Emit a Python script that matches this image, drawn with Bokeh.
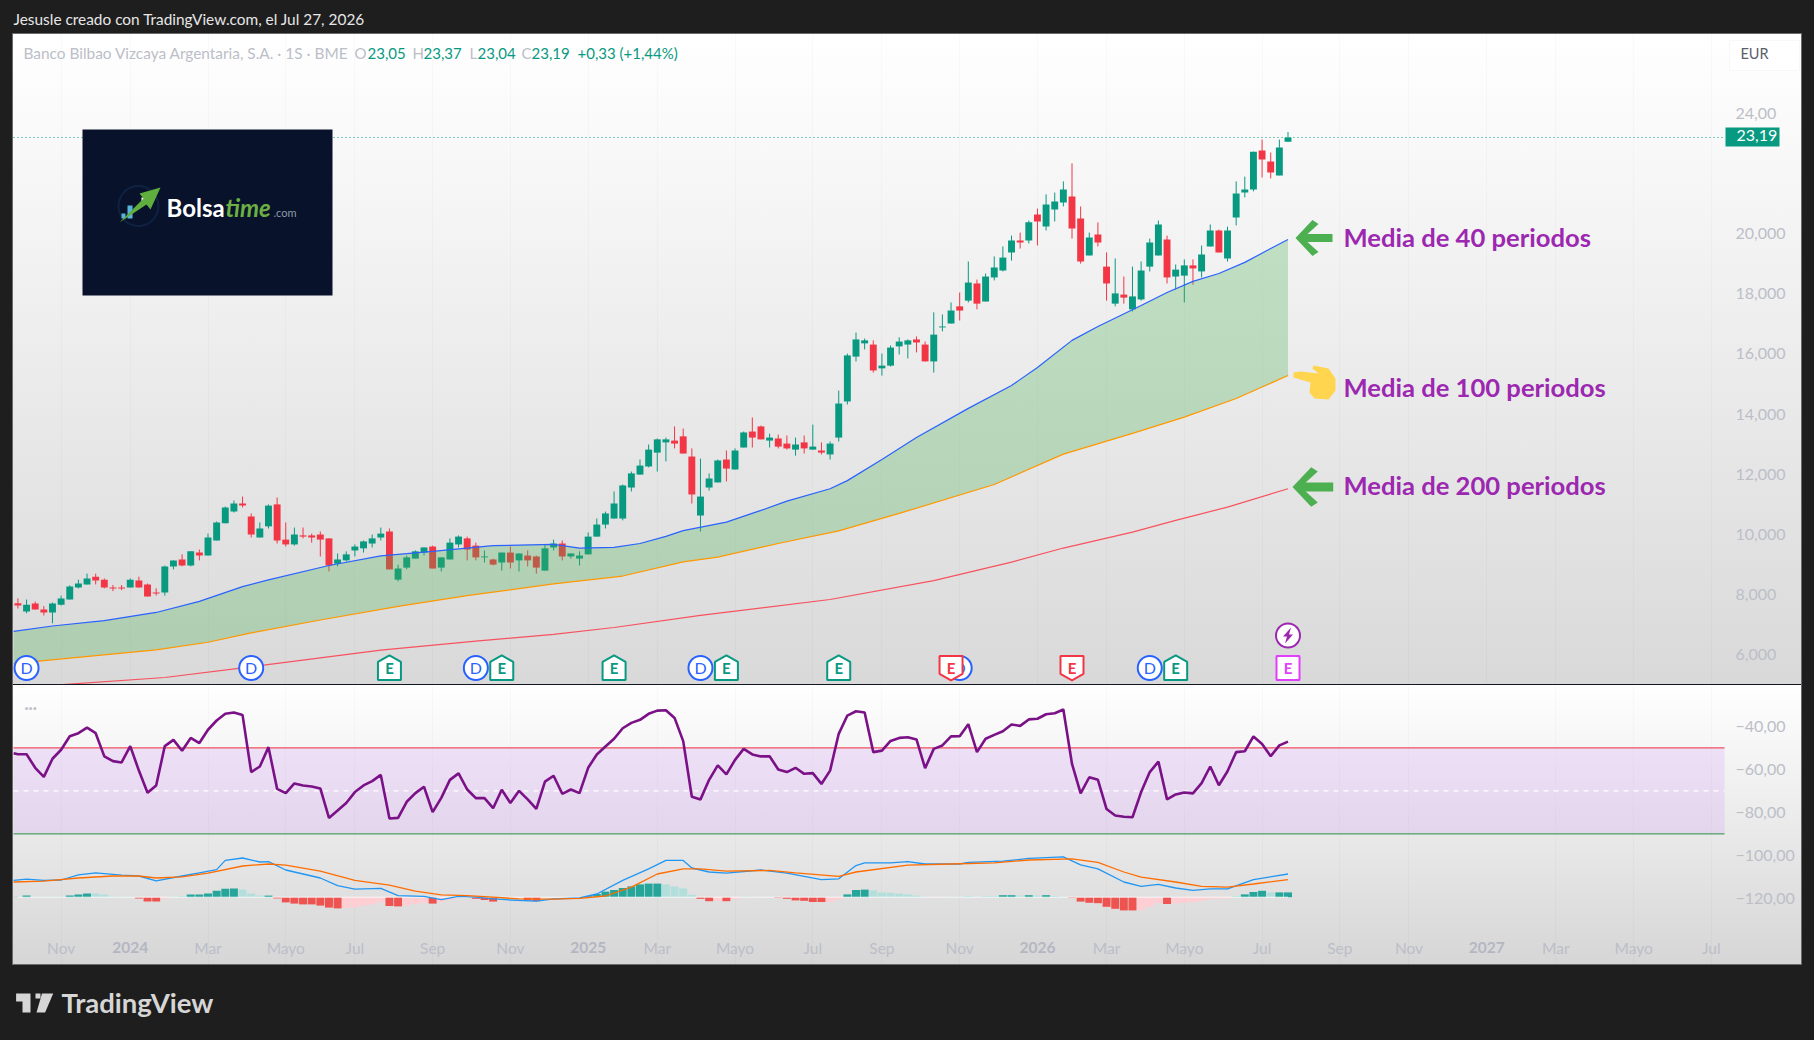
import math
import pandas as pd
from bokeh.embed import file_html
from bokeh.resources import INLINE
from bokeh.core.properties import value
from bokeh.layouts import column
from bokeh.models import (BoxAnnotation, ColumnDataSource, FixedTicker, Label, LinearAxis,
                          PolyAnnotation, Range1d)
from bokeh.plotting import figure

# ------------------------------------------------------------------ data
first_bar = "2023-10-02"
opens = [7.72,7.44,7.71,7.51,7.41,7.67,7.84,8.24,8.34,8.60,
 8.50,8.24,8.24,8.24,8.47,8.34,8.07,8.07,8.94,9.17,
 8.97,9.40,9.30,9.80,10.37,10.76,11.03,10.60,9.90,10.27,
 11.00,9.83,9.67,9.97,9.97,10.00,9.87,9.03,9.14,9.47,
 9.54,9.70,9.90,10.10,8.50,8.90,9.20,9.40,9.60,8.90,
 9.17,9.67,9.87,9.63,9.24,9.17,9.07,9.40,9.14,9.30,
 9.27,8.80,9.57,9.70,9.27,9.20,9.34,9.93,10.33,10.53,
 10.53,11.56,11.99,12.26,12.72,13.06,13.12,13.26,12.59,10.63,
 11.56,11.73,12.49,12.16,12.89,13.42,13.59,13.12,13.19,13.02,
 12.82,13.06,12.82,12.79,12.66,13.22,14.42,15.91,16.35,16.31,
 15.52,15.61,16.25,16.31,16.48,16.31,15.75,16.88,17.01,17.58,
 17.77,18.34,17.74,18.54,18.77,19.37,19.77,19.77,20.63,20.23,
 20.80,21.03,21.23,20.50,19.27,19.97,18.90,17.67,17.97,17.48,
 17.81,18.90,19.27,19.80,18.57,18.60,18.94,18.74,19.57,20.10,
 19.17,20.53,21.36,21.46,22.76,22.39,21.93,23.05]
highs = [7.88,7.84,7.77,7.62,7.74,7.97,8.31,8.50,8.70,8.70,
 8.54,8.32,8.32,8.54,8.60,8.37,8.21,8.97,9.14,9.34,
 9.44,9.50,10.03,10.43,10.93,11.13,11.26,10.70,10.40,11.00,
 11.23,10.40,10.23,10.23,10.03,10.10,9.87,9.37,9.44,9.67,
 9.80,10.00,10.23,10.20,9.00,9.30,9.47,9.57,9.63,9.24,
 9.87,9.97,9.93,9.73,9.47,9.20,9.40,9.60,9.37,9.47,
 9.30,9.67,9.83,9.80,9.37,9.44,10.07,10.53,10.76,11.43,
 11.66,12.09,12.49,12.99,13.19,13.22,13.59,13.52,12.86,12.52,
 12.03,12.49,12.79,12.86,13.42,13.89,13.62,13.35,13.32,13.29,
 13.22,13.29,13.65,13.06,13.09,14.78,16.01,16.71,16.51,16.45,
 16.01,16.28,16.55,16.48,16.58,16.41,17.38,17.31,17.71,18.04,
 19.07,18.47,18.67,19.24,19.57,19.93,20.03,20.43,20.83,21.30,
 21.36,21.73,22.33,20.90,20.03,20.37,19.37,19.17,18.57,18.90,
 19.07,19.83,20.43,19.93,18.97,19.14,19.14,19.60,20.30,20.13,
 20.23,21.73,21.89,22.72,23.12,22.69,23.12,23.37]
lows = [7.54,7.38,7.51,7.31,7.05,7.64,7.84,8.21,8.34,8.34,
 8.21,8.12,8.15,8.24,8.24,7.94,7.97,7.97,8.84,8.94,
 8.94,9.14,9.30,9.80,10.37,10.73,10.90,9.90,9.90,10.20,
 9.70,9.60,9.63,9.87,9.73,9.27,8.77,8.94,9.10,9.27,
 9.40,9.57,9.80,8.84,8.44,8.84,9.20,9.30,8.87,8.77,
 9.17,9.57,9.14,9.14,9.07,8.97,8.80,8.87,8.77,8.94,
 8.70,8.80,9.47,9.14,9.20,8.97,9.34,9.93,10.20,10.53,
 10.47,11.43,11.99,12.23,12.09,12.43,12.86,12.69,11.03,10.10,
 11.46,11.73,11.76,12.16,12.89,12.89,13.16,12.89,12.86,12.82,
 12.62,12.69,12.82,12.66,12.49,13.09,14.32,15.75,16.15,15.38,
 15.28,15.58,15.98,15.85,16.05,15.75,15.38,16.75,17.01,17.11,
 17.71,17.48,17.74,18.44,18.74,19.10,19.50,19.67,19.60,20.10,
 20.40,20.90,19.83,19.00,19.27,19.57,17.77,17.58,17.67,17.41,
 17.77,18.74,19.27,18.34,18.14,17.71,18.30,18.54,19.57,19.37,
 19.07,20.27,21.20,21.40,21.86,21.83,21.93,23.04]
closes = [7.64,7.67,7.51,7.41,7.71,7.87,8.27,8.37,8.54,8.47,
 8.24,8.21,8.21,8.50,8.24,7.94,8.04,8.94,9.14,8.97,
 9.44,9.30,9.90,10.40,10.90,11.03,10.96,10.00,10.20,10.96,
 9.80,9.67,10.00,9.93,9.90,9.83,8.97,9.17,9.34,9.60,
 9.77,9.87,10.03,8.84,8.87,9.24,9.44,9.57,8.87,9.24,
 9.73,9.93,9.50,9.24,9.27,9.00,9.40,9.07,9.37,9.14,
 8.90,9.54,9.70,9.27,9.37,9.30,9.93,10.33,10.70,11.03,
 11.63,12.03,12.29,12.82,13.16,13.16,13.02,12.69,11.33,11.26,
 11.86,12.46,12.19,12.79,13.39,13.22,13.16,13.22,12.92,12.86,
 12.99,12.86,12.92,12.72,13.02,14.35,15.95,16.48,16.45,15.45,
 15.61,16.21,16.41,16.45,16.38,15.75,16.64,16.91,17.44,17.44,
 18.37,17.67,18.57,18.87,19.20,19.77,19.70,20.37,20.40,20.96,
 21.06,21.46,20.17,19.07,19.87,19.70,18.34,18.01,17.87,17.91,
 18.77,19.70,20.30,18.54,18.80,18.94,18.84,19.30,20.10,19.37,
 20.10,21.33,21.46,22.72,22.46,22.03,22.86,23.19]

ma40_bars = [0.5,5,11,17,22,27,30,37,43,49,56,63,66,70,73,76,78,83,87,90,95,97,101,105,111,116,119,123,126,131,134,137,140,143,146,148]
ma40 = [6.78,6.96,7.14,7.41,7.78,8.27,8.49,8.97,9.29,9.44,9.63,9.67,9.55,9.57,9.70,9.94,10.13,10.41,10.80,11.11,11.52,11.79,12.49,13.22,14.19,14.95,15.55,16.45,16.91,17.61,18.04,18.41,18.67,19.04,19.50,19.80]
ma100_bars = [0.5,4,17,23,28,36,45,53,63,71,78,82,89,96,103,114,122,130,136,142,148]
ma100 = [5.70,5.81,6.17,6.42,6.73,7.16,7.61,7.97,8.36,8.62,9.09,9.25,9.70,10.12,10.70,11.66,12.67,13.36,13.90,14.52,15.28]
ma200_bars = [5.5,7,18,27,43,54,63,70,80,95,107,116,122,130,135,141,148]
ma200 = [5.00,5.03,5.25,5.57,6.16,6.46,6.68,6.91,7.31,7.84,8.47,9.08,9.55,10.08,10.47,10.91,11.52]

last_price = 23.19
price_ticks = [24, 20, 18, 16, 14, 12, 10, 8, 6]
price_labels = ["24,00", "20,000", "18,000", "16,000", "14,000", "12,000", "10,000", "8,000", "6,000"]

dividend_bars = [2, 28, 54, 80, 110, 132]
earnings_up_bars = [44, 57, 70, 83, 96, 135]
earnings_down_bars = [109, 123]
earnings_next_bar = [148]
badge_price = 5.565
bolt_price = 6.645

rsi_prev = -52.5
rsi = [-53.0,-53.0,-59.3,-63.5,-55.1,-50.9,-44.6,-43.2,-40.6,-43.2,
 -54.0,-56.2,-56.8,-49.2,-60.6,-70.9,-67.5,-49.2,-46.3,-51.4,
 -45.4,-47.8,-41.6,-37.3,-34.2,-33.6,-34.8,-61.3,-58.7,-49.7,
 -69.1,-71.1,-66.6,-67.5,-68.0,-68.9,-82.6,-79.2,-75.7,-70.6,
 -67.5,-65.5,-62.6,-82.9,-82.6,-75.1,-71.1,-68.1,-79.9,-73.3,
 -64.9,-61.9,-69.4,-73.4,-73.4,-78.1,-69.5,-75.7,-70.0,-74.0,
 -78.4,-65.7,-63.0,-71.4,-69.4,-71.1,-59.3,-53.1,-49.4,-45.8,
 -40.9,-38.4,-37.0,-34.2,-32.7,-32.5,-36.1,-46.9,-72.8,-74.0,
 -64.9,-58.2,-62.4,-55.6,-50.5,-53.1,-54.0,-53.9,-60.1,-61.3,
 -59.3,-62.1,-61.8,-66.8,-60.6,-43.5,-35.0,-33.0,-33.6,-52.0,
 -51.3,-46.8,-45.4,-45.1,-46.1,-59.5,-50.5,-48.9,-44.7,-44.6,
 -39.0,-52.0,-45.8,-44.0,-42.3,-39.2,-39.8,-36.8,-36.5,-34.4,
 -33.9,-32.2,-57.5,-71.2,-63.7,-64.9,-78.5,-81.5,-82.1,-82.3,
 -70.6,-61.3,-56.4,-74.0,-71.7,-70.8,-71.2,-66.4,-58.7,-67.4,
 -60.9,-52.0,-51.6,-44.7,-48.2,-53.9,-48.9,-47.1]
osc_ticks = [-40, -60, -80, -100, -120]
osc_labels = ["\u221240,00", "\u221260,00", "\u221280,00", "\u2212100,00", "\u2212120,00"]
band_upper, band_mid, band_lower = -50, -70, -90

macd_bars = [0.5,2,4,6,8,10,13,15,17,20,22,24,25,27,29,30,32,36,38,40,43,45,48,50,52,54,56,58,61,63,66,68,71,74,76,78,79,81,83,87,90,94,96,98,99,102,104,106,110,111,115,118,122,124,126,129,131,133,135,137,139,141,144,148]
macd = [.42,.45,.42,.43,.56,.61,.55,.53,.41,.53,.61,.69,.92,.98,.88,.89,.68,.48,.29,.20,.22,.04,.02,-.06,.02,0,-.04,-.07,-.10,-.04,-.02,.08,.42,.71,.92,.92,.73,.63,.60,.68,.60,.44,.46,.79,.86,.86,.89,.83,.83,.87,.90,.97,1.01,.81,.71,.38,.27,.32,.23,.17,.21,.21,.44,.58]
signal_bars = [0.5,4,8,12,15,17,20,23,27,30,32,36,40,44,47,50,53,56,59,63,66,69,72,75,78,80,83,88,91,96,98,104,109,114,118,123,126,129,131,135,138,141,144,148]
signal = [.38,.40,.48,.53,.53,.48,.51,.60,.78,.83,.80,.65,.42,.30,.15,.06,.04,0,-.04,-.05,-.03,.03,.25,.58,.71,.71,.65,.67,.61,.52,.63,.80,.83,.86,.93,.96,.87,.63,.50,.38,.27,.25,.33,.44]
hist = [.02,.04,.01,.01,.01,.02,.04,.07,.09,.09,
 .07,.02,.01,.01,-.03,-.11,-.11,-.04,.01,.03,
 .07,.07,.09,.16,.21,.22,.19,.09,.04,.04,
 -.03,-.13,-.16,-.18,-.18,-.21,-.26,-.28,-.27,-.25,
 -.21,-.18,-.13,-.22,-.23,-.21,-.17,-.13,-.16,-.12,
 -.07,-.02,-.01,-.04,-.07,-.11,-.01,-.01,-.02,-.08,
 -.10,-.01,-.01,-.01,-.01,.01,.03,.08,.14,.18,
 .23,.27,.32,.34,.34,.32,.27,.22,.06,-.04,
 -.10,-.09,-.10,-.05,.01,.01,.00,.00,-.02,-.04,
 -.08,-.09,-.12,-.12,-.12,-.06,.07,.18,.19,.17,
 .12,.11,.09,.07,.04,.01,-.01,-.01,.01,.01,
 .03,.01,.03,.03,.05,.05,.04,.05,.04,.05,
 .03,.01,-.02,-.11,-.14,-.15,-.24,-.29,-.33,-.33,
 -.32,-.24,-.15,-.17,-.15,-.14,-.12,-.09,-.05,-.04,
 -.03,.03,.07,.13,.16,.12,.12,.12]
hist_strong = [0,1,0,0,0,0,1,1,1,0, 0,0,0,0,1,1,1,0,0,0, 1,1,1,1,1,1,0,0,0,1,
 1,1,1,1,1,1,1,1,0,0, 0,0,0,1,1,0,0,0,1,0, 0,0,0,1,1,1,0,0,0,1,
 1,0,0,0,0,0,1,1,1,1, 1,1,1,1,1,0,0,0,0,1, 1,0,1,0,0,0,0,0,1,1,
 1,1,1,1,0,0,1,1,1,0, 0,0,0,0,0,0,0,0,0,0, 0,0,0,0,1,1,0,1,0,1,
 0,0,1,1,1,1,1,1,1,1, 0,0,0,1,0,0,0,0,0,0, 0,0,1,1,1,0,1,1]

month_ticks = ["2023-11-06","2024-03-04","2024-05-06","2024-07-01","2024-09-02","2024-11-04",
               "2025-03-03","2025-05-05","2025-07-07","2025-09-01","2025-11-03",
               "2026-03-02","2026-05-04","2026-07-06","2026-09-07","2026-11-02",
               "2027-03-01","2027-05-03","2027-07-05"]
month_labels = ["Nov","Mar","Mayo","Jul","Sep","Nov","Mar","Mayo","Jul","Sep","Nov",
                "Mar","Mayo","Jul","Sep","Nov","Mar","Mayo","Jul"]
year_ticks = ["2024-01-01","2025-01-06","2026-01-05","2027-01-04"]
year_labels = ["2024","2025","2026","2027"]

# ------------------------------------------------------------------ layout constants (page pixels)
FONT = "Lato"
FRAME_L, FRAME_R_ABS = 8, 1801       # plotting frame of both figures
PANEL_L, PANEL_R, PANEL_T, SPLIT, PANEL_B = 13, 1801, 34, 684, 964
DATA_R = 1724                        # right end of the data area, left of the price scale
PAGE_T, SUB_BOTTOM = 8, 1028
WEEK_PX = 8.64
LAST_PX = 1287.5
PX_PER_EUR = 30.1
Y_REF = 233.0                        # page y of 20 EUR
GREEN, RED = "#089981", "#f23645"
GREY = "#bcbec8"
TEXT_DY = 1.5                        # optical correction of the middle baseline

WEEK_MS = 7 * 86400000
def ms(d):
    return (pd.Timestamp(d) - pd.Timestamp("1970-01-01")) / pd.Timedelta(milliseconds=1)
T0 = ms(first_bar)
def bar_x(n):
    return T0 + (n - 1) * WEEK_MS
dates_x = [bar_x(i + 1) for i in range(len(opens))]
T_LAST = dates_x[-1]
def x_at(X):
    return T_LAST + (X - LAST_PX) / WEEK_PX * WEEK_MS
x_range = Range1d(x_at(FRAME_L), x_at(FRAME_R_ABS))
X_DATA_L, X_DATA_R = x_at(PANEL_L), x_at(DATA_R)
all_ticks = [ms(d) for d in month_ticks]
overrides = {ms(d): l for d, l in zip(month_ticks, month_labels)}

W, H_MAIN, H_SUB = 1798, SPLIT - PAGE_T, SUB_BOTTOM - SPLIT

def base_fig(height, top, y_range):
    p = figure(width=W, height=height, x_range=x_range, y_range=y_range, y_axis_location="right",
               output_backend="svg", toolbar_location=None, tools="",
               min_border_left=0, min_border_right=8 + W - FRAME_R_ABS,
               min_border_top=top, min_border_bottom=0,
               background_fill_alpha=0, border_fill_alpha=0, outline_line_color=None)
    p.ygrid.grid_line_color = None
    p.xgrid.grid_line_color = "#000000"
    p.xgrid.grid_line_alpha = 0.018
    yax = p.yaxis[0]
    yax.axis_line_color = None
    yax.major_tick_line_color = None
    yax.minor_tick_line_color = None
    yax.major_tick_out = 0
    yax.major_tick_in = 0
    yax.major_label_standoff = 1735 - FRAME_R_ABS     # the price scale sits inside the panel
    yax.major_label_text_color = GREY
    yax.major_label_text_font = FONT
    yax.major_label_text_font_size = "16px"
    return p

def tools_for(p, bottom):
    def sx(X): return X - FRAME_L
    def sy(Y): return bottom - Y
    def lab(X, Y, text, color, size, style="normal", font=FONT, align="left", **kw):
        p.add_layout(Label(x=sx(X), y=sy(Y - TEXT_DY), x_units="screen", y_units="screen", text=text,
                           text_color=color, text_font_size=f"{size}px", text_font_style=style,
                           text_font=font, text_align=align, text_baseline="middle", **kw))
    def poly(pts, fill, line=None, lw=1, fill_alpha=1.0):
        p.add_layout(PolyAnnotation(xs=[sx(a) for a, _ in pts], ys=[sy(b) for _, b in pts],
                                    xs_units="screen", ys_units="screen", fill_color=fill,
                                    fill_alpha=fill_alpha, line_color=line, line_width=lw))
    def box(l, r, t, b, fill, line=None):
        p.add_layout(BoxAnnotation(left=sx(l), right=sx(r), top=sy(t), bottom=sy(b),
                                   left_units="screen", right_units="screen", top_units="screen",
                                   bottom_units="screen", fill_color=fill, fill_alpha=1, line_color=line))
    return lab, poly, box

# ------------------------------------------------------------------ main pane
def price_at(Y):
    return 20 - (Y - Y_REF) / PX_PER_EUR

pm = base_fig(H_MAIN, 0, Range1d(price_at(SPLIT), price_at(PAGE_T)))
pm.xaxis.visible = False
pm.xaxis[0].ticker = FixedTicker(ticks=all_ticks + [ms(d) for d in year_ticks])
pm.yaxis[0].ticker = FixedTicker(ticks=price_ticks)
pm.yaxis[0].major_label_overrides = dict(zip(price_ticks, price_labels))

colors = [GREEN if c >= o else RED for o, c in zip(opens, closes)]
src = ColumnDataSource(dict(x=dates_x, o=opens, h=highs, l=lows, c=closes, color=colors,
                            top=[max(a, b) for a, b in zip(opens, closes)],
                            bottom=[min(a, b) for a, b in zip(opens, closes)]))
pm.segment([X_DATA_L], [last_price], [X_DATA_R], [last_price], line_color=GREEN, line_width=1, line_dash="1 3")
pm.segment("x", "h", "x", "l", source=src, color="color", line_width=1)
pm.vbar("x", 0.8 * WEEK_MS, "top", "bottom", source=src, fill_color="color", line_color=None)

x40 = [bar_x(n) for n in ma40_bars]
x100 = [bar_x(n) for n in ma100_bars]
x200 = [bar_x(n) for n in ma200_bars]
pm.patch(x40 + x100[::-1], ma40 + ma100[::-1], fill_color="#4caf50", fill_alpha=0.3, line_color=None)
pm.line(x200, ma200, color="#f7525f", line_width=1.2)
pm.line(x100, ma100, color="#ff9800", line_width=1.2)
pm.line(x40, ma40, color="#2962ff", line_width=1.2)

# event badges
PX_X = WEEK_MS / WEEK_PX
def shape(n, y, pts):
    return [bar_x(n) + a * PX_X for a, _ in pts], [y - b / PX_PER_EUR for _, b in pts]
HOUSE_UP = [(0, -12.5), (11.5, -6), (11.5, 12), (-11.5, 12), (-11.5, -6)]
HOUSE_DN = [(-11.5, -12), (11.5, -12), (11.5, 6), (0, 12.5), (-11.5, 6)]
SQUARE = [(-11.5, -12), (11.5, -12), (11.5, 12), (-11.5, 12)]
BOLT = [(3, -8), (-5, 1), (-1, 1), (-3, 8), (5, -1), (1, -1)]

dx = [bar_x(n) for n in dividend_bars]
pm.scatter(dx, [badge_price] * len(dx), marker="circle", size=24, fill_color="white",
           line_color="#2962ff", line_width=2)
pm.text(dx, [badge_price] * len(dx), text=["D"] * len(dx), text_color="#2962ff", text_font=value(FONT),
        text_font_size="16px", text_align="center", text_baseline="middle")
def badges(bars, pts, color):
    xs, ys = zip(*[shape(n, badge_price, pts) for n in bars])
    pm.patches(list(xs), list(ys), fill_color="white", line_color=color, line_width=2)
    bx = [bar_x(n) for n in bars]
    pm.text(bx, [badge_price] * len(bx), text=["E"] * len(bx), text_color=color, text_font=value(FONT),
            text_font_style="bold", text_font_size="15px", text_align="center", text_baseline="middle")
badges(earnings_up_bars, HOUSE_UP, GREEN)
badges(earnings_down_bars, HOUSE_DN, RED)
badges(earnings_next_bar, SQUARE, "#e040fb")
bx = [bar_x(n) for n in earnings_next_bar]
pm.scatter(bx, [bolt_price], marker="circle", size=24, fill_color="white", line_color="#9c27b0", line_width=2)
bxs, bys = shape(earnings_next_bar[0], bolt_price, BOLT)
pm.patch(bxs, bys, fill_color="#9c27b0", line_color=None)

lab, poly, box = tools_for(pm, SPLIT)

lab(13, 20, "Jesusle creado con TradingView.com, el Jul 27, 2026", "#e6e6e6", 15.4)
lab(23, 54, "Banco Bilbao Vizcaya Argentaria, S.A. \u00b7 1S \u00b7 BME", GREY, 15.4)
for X, txt, col in [(354, "O", GREY), (367, "23,05", GREEN), (412, "H", GREY), (423, "23,37", GREEN),
                    (469, "L", GREY), (477, "23,04", GREEN), (521, "C", GREY), (531, "23,19", GREEN),
                    (577, "+0,33 (+1,44%)", GREEN)]:
    lab(X, 54, txt, col, 15)

# logo card
box(82, 332, 129, 295, "#08122a")
ring = [(138 + 20 * math.cos(a * math.pi / 18), 205.5 + 20 * math.sin(a * math.pi / 18)) for a in range(36)]
poly(ring, "#08122a", line="#25497f", lw=2)
poly([(121, 213), (125, 213), (125, 218), (121, 218)], "#58b4dc")
poly([(127, 205), (132, 205), (132, 218), (127, 218)], "#58b4dc")
poly([(141, 197), (145, 197), (145, 203), (141, 203)], "#ffffff")
poly([(119, 222), (146, 204), (150, 209), (160, 187), (139, 193), (143, 198)], "#5fae3e")
lab(166, 208, "Bolsa", "#ffffff", 24, style="bold")
lab(225, 208, "time", "#6cb044", 24, style="bold italic")
lab(273, 213, ".com", "#8d9aa8", 11)

# price tag and currency button
box(1725, 1779, 127, 146, GREEN)
lab(1736, 136.8, "23,19", "#ffffff", 16)
box(1729, 1799, 40, 70, "#ffffff", line="#e6e8ee")
lab(1740, 54.5, "EUR", "#5a5e6b", 14.5)

# annotations
def arrow(tx, ty, k=1.0):
    pts = [(0, 0), (17, -18), (23, -14), (12, -4), (37, -4), (37, 4), (12, 4), (23, 14), (17, 18)]
    poly([(tx + a * k, ty + b * k) for a, b in pts], "#4caf50")
arrow(1295, 237.5)
arrow(1292, 486.5, 1.1)
poly([(1293, 372), (1293, 377), (1310, 382), (1309, 392), (1314, 398), (1328, 399), (1335, 390),
      (1335, 378), (1328, 368), (1313, 365), (1312, 368), (1318, 373), (1300, 371)], "#ffd54f")
PURPLE = "#9c27b0"
lab(1343, 238, "Media de 40 periodos", PURPLE, 25.6, style="bold")
lab(1343, 387.5, "Media de 100 periodos", PURPLE, 25.6, style="bold")
lab(1343, 485.5, "Media de 200 periodos", PURPLE, 25.6, style="bold")

# ------------------------------------------------------------------ oscillator pane
OSC_Y50 = 747.3
OSC_PX = 2.15
def osc_at(Y):
    return band_upper + (OSC_Y50 - Y) / OSC_PX
MACD_Y0, MACD_PX = 896.7, 40.0
ps = base_fig(H_SUB, 1, Range1d(osc_at(SUB_BOTTOM), osc_at(SPLIT + 1)))
ps.extra_y_ranges["macd"] = Range1d((MACD_Y0 - SUB_BOTTOM) / MACD_PX, (MACD_Y0 - SPLIT - 1) / MACD_PX)
ps.yaxis[0].ticker = FixedTicker(ticks=osc_ticks)
ps.yaxis[0].major_label_overrides = dict(zip(osc_ticks, osc_labels))
xa = ps.xaxis[0]
xa.ticker = FixedTicker(ticks=all_ticks)
xa.major_label_overrides = overrides
def style_time_axis(ax):
    ax.axis_line_color = None
    ax.major_tick_line_color = None
    ax.minor_tick_line_color = None
    ax.major_tick_out = 0
    ax.major_tick_in = 0
    ax.major_label_text_color = GREY
    ax.major_label_text_font = FONT
    ax.major_label_text_font_size = "15.5px"
    ax.major_label_standoff = 938 - SUB_BOTTOM         # the time scale sits inside the panel
style_time_axis(xa)

ps.quad(left=[X_DATA_L], right=[X_DATA_R], top=[band_upper], bottom=[band_lower],
        fill_color="#b964ff", fill_alpha=0.15, line_color=None)
ps.segment([X_DATA_L], [band_upper], [X_DATA_R], [band_upper], line_color="#f0525f", line_width=1.2)
ps.segment([X_DATA_L], [band_mid], [X_DATA_R], [band_mid], line_color="#ffffff", line_width=1.2, line_dash="5 5")
ps.segment([X_DATA_L], [band_lower], [X_DATA_R], [band_lower], line_color="#4c9f63", line_width=1.2)

hcol = []
for v, s in zip(hist, hist_strong):
    if v >= 0:
        hcol.append("#26a69a" if s else "#b2dfdb")
    else:
        hcol.append("#ef5350" if s else "#ffcdd2")
ps.vbar(dates_x, 0.92 * WEEK_MS, hist, 0, y_range_name="macd", fill_color=hcol, line_color=None)
ps.line([dates_x[0], dates_x[-1]], [0, 0], y_range_name="macd", color="#ffffff", line_width=1, line_alpha=0.8)
ps.line([bar_x(n) for n in macd_bars], macd, y_range_name="macd", color="#2196f3", line_width=1.3)
ps.line([bar_x(n) for n in signal_bars], signal, y_range_name="macd", color="#ff6d00", line_width=1.3)
ps.line([bar_x(0.5)] + dates_x, [rsi_prev] + rsi, color="#7b1186", line_width=2.6)

labs, polys, _ = tools_for(ps, SUB_BOTTOM)
labs(24, 708, "\u00b7\u00b7\u00b7", GREY, 15, style="bold")
for d, t in zip(year_ticks, year_labels):
    ps.add_layout(Label(x=ms(d), y=SUB_BOTTOM - 946.5, x_units="data", y_units="screen", text=t,
                        text_color="#b4b6c2", text_font=FONT, text_font_style="bold",
                        text_font_size="15.5px", text_align="center", text_baseline="middle"))
polys([(15.6, 993), (30, 993), (30, 1012), (22, 1012), (22, 1001), (15.6, 1001)], "#d6d6d6")
polys([(35, 993), (40, 993), (40, 998), (35, 998)], "#d6d6d6")
polys([(41.5, 993), (52.7, 993), (44.6, 1012), (36, 1012)], "#d6d6d6")
labs(61, 1003, "TradingView", "#d6d6d6", 27.5, style="bold")

# ------------------------------------------------------------------ page
pw = PANEL_R - PANEL_L
OX, OY = PANEL_L - FRAME_L, PANEL_T - PAGE_T
css_bg = ", ".join([
    f"linear-gradient(#131722,#131722) {OX}px {SPLIT-PAGE_T}px / {pw}px 1px no-repeat",
    f"linear-gradient(#ffffff,#d9d9d9) {OX}px {OY}px / {pw}px {SPLIT-PANEL_T}px no-repeat",
    f"linear-gradient(#ffffff,#d6d6d6) {OX}px {SPLIT-PAGE_T}px / {pw}px {PANEL_B-SPLIT}px no-repeat",
    f"linear-gradient(#6a6a6a,#6a6a6a) {OX-1}px {OY-1}px / {pw+2}px {PANEL_B-PANEL_T+2}px no-repeat",
    "#1e1e1e",
])
page = column(pm, ps, spacing=0, width=W, height=H_MAIN + H_SUB, styles={"background": css_bg})

html = file_html(page, INLINE)
html = html.replace("<head>", "<head><style>html,body{background:#1e1e1e;overflow:hidden}</style>", 1)
html = html.replace("</head>", "<style>html,body{height:auto}body{margin:8px !important}</style></head>", 1)
open("out.html", "w").write(html)
